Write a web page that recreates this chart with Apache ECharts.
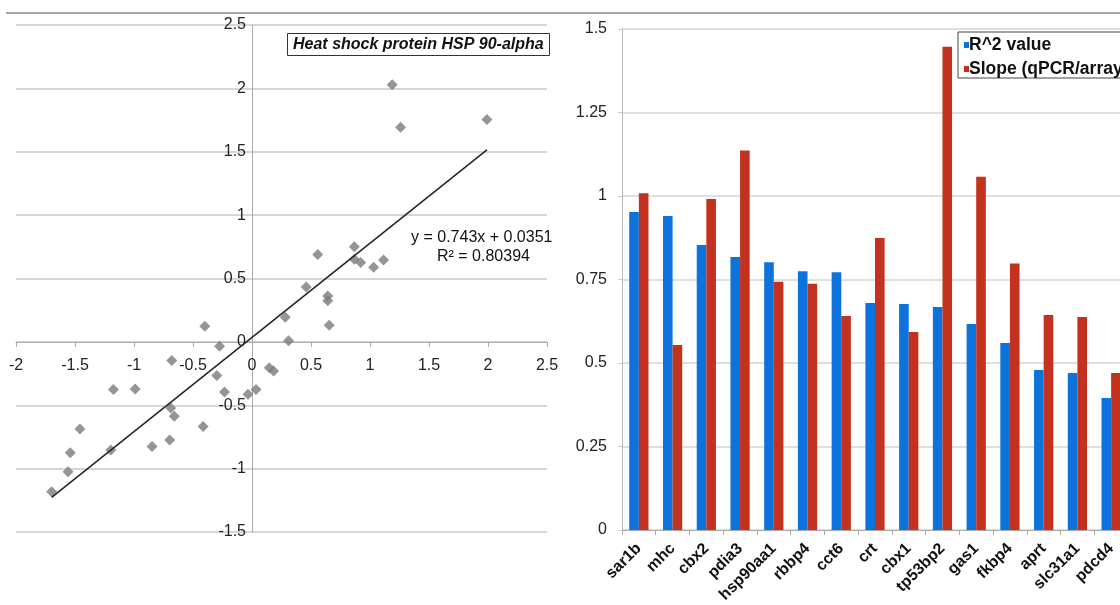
<!DOCTYPE html>
<html><head><meta charset="utf-8">
<script src="https://cdn.jsdelivr.net/npm/echarts@6/dist/echarts.min.js"></script>
<style>html,body{margin:0;padding:0;background:#fff}#c{width:1120px;height:605px}</style>
</head><body><div id="c"></div>
<script>
// ---- Left chart: qPCR vs array scatter (Heat shock protein HSP 90-alpha)
const scatterX = [-0.40,-0.275,-0.68,-0.298,-0.233,-0.034,0.034,0.147,0.183,-1.174,-0.99,-0.689,-0.659,-0.414,-1.458,-1.54,-1.196,-0.847,-0.698,-1.559,-1.698,
                  1.188,1.259,1.991,0.557,0.867,0.867,0.921,1.031,1.115,0.459,0.642,0.642,0.654,0.282,0.31];
const scatterY = [0.124,-0.034,-0.147,-0.266,-0.395,-0.413,-0.376,-0.205,-0.229,-0.376,-0.371,-0.521,-0.587,-0.668,-0.687,-0.874,-0.853,-0.826,-0.774,-1.024,-1.182,
                  2.028,1.693,1.754,0.690,0.750,0.651,0.627,0.588,0.645,0.432,0.361,0.324,0.132,0.195,0.008];
const trendSlope = 0.743;
const trendIntercept = 0.0351;
const trendR2 = '0.80394';
const scatterTitle = 'Heat shock protein HSP 90-alpha';
const scatterXRange = [-2, 2.5];
const scatterYRange = [-1.5, 2.5];

// ---- Right chart: bar chart
const genes = ['sar1b','mhc','cbx2','pdia3','hsp90aa1','rbbp4','cct6','crt','cbx1','tp53bp2','gas1','fkbp4','aprt','slc31a1','pdcd4'];
const r2Values = [0.952,0.94,0.853,0.817,0.802,0.775,0.772,0.68,0.677,0.668,0.617,0.56,0.479,0.47,0.395];
const slopeValues = [1.008,0.554,0.991,1.136,0.743,0.737,0.641,0.874,0.593,1.447,1.058,0.798,0.644,0.638,0.47];
const seriesNames = ['R^2 value','Slope (qPCR/array)'];

const FONT = '"Liberation Sans", Arial, Helvetica, sans-serif';
const pts = scatterX.map((x,i)=>[x, scatterY[i]]);
const xMinD = Math.min(...scatterX), xMaxD = Math.max(...scatterX);
const trendData = [[xMinD, trendSlope*xMinD+trendIntercept],[xMaxD, trendSlope*xMaxD+trendIntercept]];

// layout of left grid; axes are moved onto the zero lines via offset
const G0 = {left:16, top:25, width:531, height:507};
const xZeroOffset = -G0.height * (0 - scatterYRange[0]) / (scatterYRange[1]-scatterYRange[0]);
const yZeroOffset = -G0.width * (0 - scatterXRange[0]) / (scatterXRange[1]-scatterXRange[0]);

const chart = echarts.init(document.getElementById('c'), null, {renderer:'canvas'});
chart.setOption({
  animation:false,
  backgroundColor:'#fff',
  textStyle:{fontFamily:FONT},
  title:{
    text:scatterTitle, left:287, top:33,
    borderColor:'#333', borderWidth:1, padding:[4,6,3,6],
    textStyle:{fontFamily:FONT, fontSize:16, fontWeight:'bold', fontStyle:'italic', color:'#111'}
  },
  legend:{
    data:seriesNames, orient:'vertical', left:958, top:32,
    borderColor:'#444', borderWidth:1, padding:[4,6,0,6], itemGap:6,
    itemWidth:5, itemHeight:6, icon:'rect',
    textStyle:{fontFamily:FONT, fontSize:17.5, lineHeight:18, fontWeight:'bold', color:'#111', padding:[0,0,0,-5]}
  },
  grid:[
    Object.assign({outerBoundsMode:'none', containLabel:false}, G0),
    {left:622, top:29, width:506, height:501, outerBoundsMode:'none', containLabel:false}
  ],
  xAxis:[
    {gridIndex:0, type:'value', min:scatterXRange[0], max:scatterXRange[1], interval:0.5,
     position:'bottom', offset:xZeroOffset,
     axisLine:{onZero:false, lineStyle:{color:'#aaa', width:1}},
     axisTick:{show:true, length:5, lineStyle:{color:'#aaa'}},
     axisLabel:{fontSize:16, color:'#222', margin:16, fontFamily:FONT, showMinLabel:true, showMaxLabel:true, hideOverlap:false},
     splitLine:{show:false}},
    {gridIndex:1, type:'category', data:genes,
     axisLine:{lineStyle:{color:'#aaa', width:1}},
     axisTick:{show:true, length:5, lineStyle:{color:'#aaa'}},
     axisLabel:{rotate:45, fontSize:16, fontWeight:'bold', color:'#111', margin:16, interval:0, fontFamily:FONT}}
  ],
  yAxis:[
    {gridIndex:0, type:'value', min:scatterYRange[0], max:scatterYRange[1], interval:0.5,
     position:'left', offset:yZeroOffset,
     axisLine:{show:true, onZero:false, lineStyle:{color:'#aaa', width:1}},
     axisTick:{show:false},
     axisLabel:{fontSize:16, color:'#222', margin:6, fontFamily:FONT, hideOverlap:false},
     splitLine:{show:true, lineStyle:{color:'#c8c8c8', width:1.5}}},
    {gridIndex:1, type:'value', min:0, max:1.5, interval:0.25,
     axisLine:{show:true, lineStyle:{color:'#bbb', width:1}},
     axisTick:{show:true, length:4, lineStyle:{color:'#ccc'}},
     axisLabel:{fontSize:16, color:'#222', margin:15, fontFamily:FONT},
     splitLine:{show:true, lineStyle:{color:'#d4d4d4', width:1.5}}}
  ],
  series:[
    {type:'scatter', xAxisIndex:0, yAxisIndex:0, data:pts, symbol:'diamond', symbolSize:11,
     itemStyle:{color:'#7b7b7b'}, z:3},
    {type:'line', xAxisIndex:0, yAxisIndex:0, data:trendData, symbol:'none',
     lineStyle:{color:'#222', width:1.5}, z:4},
    {name:seriesNames[0], type:'bar', xAxisIndex:1, yAxisIndex:1, data:r2Values,
     itemStyle:{color:'#0B73DB'}, barGap:'0%', barCategoryGap:'43%'},
    {name:seriesNames[1], type:'bar', xAxisIndex:1, yAxisIndex:1, data:slopeValues,
     itemStyle:{color:'#C3311F'}, barGap:'0%', barCategoryGap:'43%'}
  ],
  graphic:[
    {type:'line', shape:{x1:6, y1:13, x2:1120, y2:13}, style:{stroke:'#8a8a8a', lineWidth:1.5}},
    {type:'text', left:411, top:230, style:{text:'y = 0.743x + 0.0351', font:'16px '+FONT, fill:'#111'}},
    {type:'text', left:437, top:249, style:{text:'R² = '+trendR2, font:'16px '+FONT, fill:'#111'}}
  ]
});
</script>
</body></html>
